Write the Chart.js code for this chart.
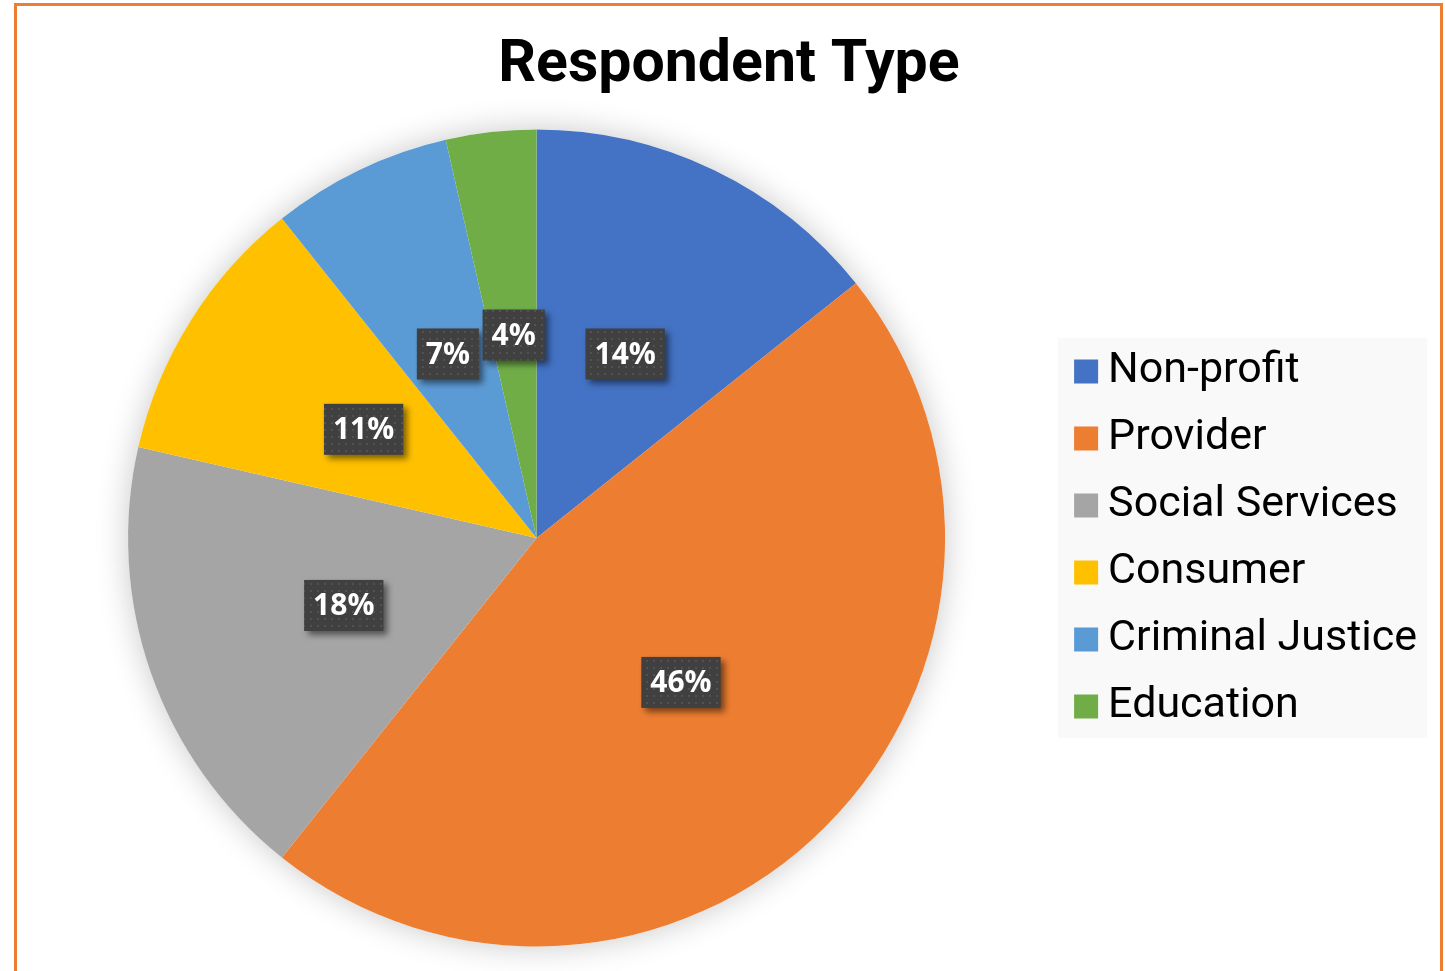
<!DOCTYPE html>
<html>
<head>
<meta charset="utf-8">
<script src="https://cdn.jsdelivr.net/npm/chart.js@4"></script>
<style>
  html, body { margin: 0; padding: 0; background: #fff; overflow: hidden; }
  #frame { position: absolute; left: 14px; top: 3px; width: 1423px; height: 1000px; border: 3px solid #ED7D31; }
  #chartRespondent { position: absolute; left: 0; top: 0; }
</style>
</head>
<body>
<div id="frame"></div>
<canvas id="chartRespondent" width="1445" height="971"></canvas>
<script>
const titulo = 'Respondent Type';
const tipos = ['Non-profit', 'Provider', 'Social Services', 'Consumer', 'Criminal Justice', 'Education'];
const respuestas = [4, 13, 5, 3, 2, 1];
const colores = ['#4472C4', '#ED7D31', '#A5A5A5', '#FFC000', '#5B9BD5', '#70AD47'];

const total = respuestas.reduce((a, b) => a + b, 0);

// patron punteado para las etiquetas
const patCanvas = document.createElement('canvas');
patCanvas.width = 7;
patCanvas.height = 7;
const pctx = patCanvas.getContext('2d');
pctx.fillStyle = '#404040';
pctx.fillRect(0, 0, 7, 7);
pctx.fillStyle = '#525252';
pctx.fillRect(2, 2, 2, 2);

const sombraPie = {
  id: 'sombraPie',
  beforeDatasetsDraw(chart) {
    const arc = chart.getDatasetMeta(0).data[0];
    if (!arc) return;
    const ctx = chart.ctx;
    ctx.save();
    ctx.shadowColor = 'rgba(0,0,0,0.22)';
    ctx.shadowBlur = 32;
    ctx.fillStyle = '#fff';
    ctx.beginPath();
    ctx.arc(arc.x, arc.y, arc.outerRadius, 0, Math.PI * 2);
    ctx.fill();
    ctx.restore();
  }
};

const etiquetas = {
  id: 'etiquetas',
  afterDatasetsDraw(chart) {
    const ctx = chart.ctx;
    const patron = ctx.createPattern(patCanvas, 'repeat');
    chart.getDatasetMeta(0).data.forEach((arc, i) => {
      const pos = arc.tooltipPosition();
      const texto = Math.round(respuestas[i] / total * 100) + '%';
      ctx.save();
      ctx.font = 'bold 30px "Open Sans"';
      const w = ctx.measureText(texto).width + 18;
      const h = 51;
      ctx.shadowColor = 'rgba(0,0,0,0.5)';
      ctx.shadowBlur = 6;
      ctx.shadowOffsetX = 4;
      ctx.shadowOffsetY = 4;
      ctx.fillStyle = patron;
      ctx.fillRect(pos.x - w / 2, pos.y - h / 2, w, h);
      ctx.restore();
      ctx.save();
      ctx.font = 'bold 30px "Open Sans"';
      ctx.fillStyle = '#fff';
      ctx.textAlign = 'center';
      ctx.textBaseline = 'middle';
      ctx.fillText(texto, pos.x, pos.y + 1);
      ctx.restore();
    });
  }
};

const fondoLeyenda = {
  id: 'fondoLeyenda',
  beforeDraw(chart) {
    const cajas = chart.legend && chart.legend.legendHitBoxes;
    if (!cajas || !cajas.length) return;
    const left = Math.min(...cajas.map(c => c.left)) - 28;
    const top = Math.min(...cajas.map(c => c.top)) - 12;
    const right = Math.max(...cajas.map(c => c.left + c.width)) + 10;
    const bottom = Math.max(...cajas.map(c => c.top + c.height)) + 10;
    const ctx = chart.ctx;
    ctx.save();
    ctx.fillStyle = '#f9f9f9';
    ctx.fillRect(left, top, right - left, bottom - top);
    ctx.restore();
  }
};

const tituloPlugin = {
  id: 'tituloPlugin',
  afterDraw(chart) {
    const ctx = chart.ctx;
    ctx.save();
    ctx.font = 'bold 59px Roboto';
    ctx.fillStyle = '#000';
    ctx.textAlign = 'center';
    ctx.textBaseline = 'alphabetic';
    ctx.fillText(titulo, 729, 81);
    ctx.restore();
  }
};

const ctxRespondent = document.getElementById('chartRespondent').getContext('2d');

new Chart(ctxRespondent, {
  type: 'pie',
  data: {
    labels: tipos,
    datasets: [{
      data: respuestas,
      backgroundColor: colores,
      borderWidth: 0,
      radius: 408.5
    }]
  },
  options: {
    responsive: false,
    animation: false,
    layout: {
      padding: { left: 11.5, right: 18, top: 105, bottom: -2 }
    },
    plugins: {
      title: { display: false },
      tooltip: { enabled: false },
      legend: {
        display: true,
        position: 'right',
        align: 'center',
        labels: {
          color: '#000',
          font: { family: 'Roboto', size: 43 },
          usePointStyle: true,
          pointStyle: 'rect',
          boxWidth: 1,
          boxHeight: 24,
          padding: 24
        }
      }
    }
  },
  plugins: [sombraPie, etiquetas, fondoLeyenda, tituloPlugin]
});
</script>
</body>
</html>
